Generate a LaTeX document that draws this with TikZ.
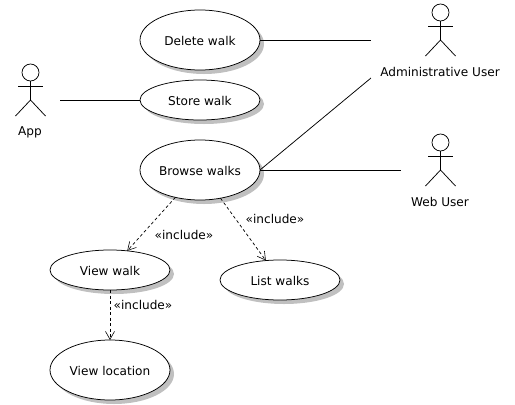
\documentclass[tikz,border=0pt]{standalone}
\usepackage{fontspec}
\setmainfont{DejaVu Sans}
\usetikzlibrary{shapes.geometric,shadows,arrows.meta}
\definecolor{shadowgray}{HTML}{C0C0C0}
\tikzset{
  usecase/.style={ellipse,draw=black,fill=white,line width=0.75pt,inner sep=0pt,outer sep=0pt,minimum width=120pt,text depth=0pt,text height=10.6pt,
    font=\fontsize{12.1}{14}\selectfont,
    drop shadow={shadow xshift=4pt,shadow yshift=-4pt,fill=shadowgray,opacity=1}},
  smallcase/.style={usecase,minimum height=40pt},
  largecase/.style={usecase,minimum height=60pt},
  assoc/.style={draw=black,line width=0.75pt},
  incl/.style={draw=black,line width=0.7pt,dash pattern=on 3pt off 2.5pt,-{Straight Barb[length=8pt,width=9pt,line width=0.6pt]}},
  stick/.style={draw=black,line width=0.75pt},
  actorname/.style={inner sep=0pt,font=\fontsize{12.1}{14}\selectfont},
  stereo/.style={inner sep=0pt,font=\fontsize{12.1}{14}\selectfont}
}
\begin{document}
\begin{tikzpicture}[x=1pt,y=-1pt]
\useasboundingbox (0,0) rectangle (515,405);
% use cases
\node[largecase] (delete) at (200,40) {Delete walk};
\node[smallcase] (store) at (200,100) {Store walk};
\node[largecase] (browse) at (200,170) {Browse walks};
\node[smallcase] (view) at (110,270) {View walk};
\node[smallcase] (list) at (280,280) {List walks};
\node[largecase] (location) at (110,370) {View location};
% actors
\foreach \nm/\cx/\cy in {app/30.5/72.5,admin/440.5/12.5,web/440.5/142.5}{
  \node[circle,draw=black,fill=white,line width=0.75pt,minimum size=17pt,inner sep=0pt,outer sep=0pt] (\nm head) at (\cx,\cy) {};
  \coordinate (\nm hip) at (\cx,\cy+27.5);
  \coordinate (\nm armL) at (\cx-12.5,\cy+13.5);
  \coordinate (\nm armR) at (\cx+12.5,\cy+13.5);
  \coordinate (\nm legL) at (\cx-15,\cy+43.5);
  \coordinate (\nm legR) at (\cx+15,\cy+43.5);
  \path[stick] (\nm head.south) -- (\nm hip);
  \path[stick] (\nm armL) -- (\nm armR);
  \path[stick] (\nm legL) -- (\nm hip) -- (\nm legR);
}
\node[actorname] (appname) at (30,132.8) {App};
\node[actorname] (adminname) at (440,71.8) {Administrative User};
\node[actorname] (webname) at (440,201.8) {Web User};
% free ends of associations
\coordinate (append) at (60,100);
\coordinate (adminend) at (371,40);
\coordinate (adminend2) at (371,78);
\coordinate (webend) at (401,170);
\path[assoc] (append) -- (store);
\path[assoc] (delete) -- (adminend);
\path[assoc] (browse.east) -- (adminend2);
\path[assoc] (browse.east) -- (webend);
% includes
\path[incl] (browse) -- (view);
\path[incl] (browse) -- (list);
\path[incl] (view) -- (location);
\node[stereo] (l1) at (184,234.6) {«include»};
\node[stereo] (l2) at (275,218.6) {«include»};
\node[stereo] (l3) at (143,304.6) {«include»};
\end{tikzpicture}
\end{document}
